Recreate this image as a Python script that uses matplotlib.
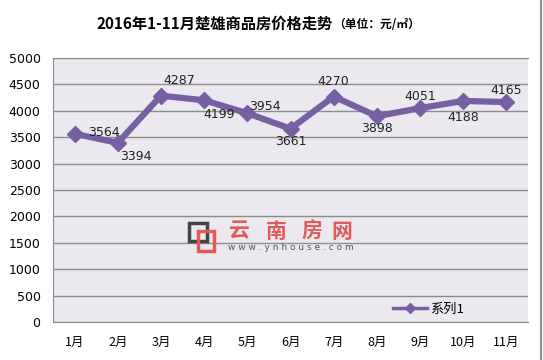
import matplotlib.pyplot as plt
from matplotlib.patches import Rectangle
from matplotlib.lines import Line2D

plt.rcParams['font.family'] = ['Noto Sans CJK SC', 'DejaVu Sans']

months = ['1月', '2月', '3月', '4月', '5月', '6月', '7月', '8月', '9月', '10月', '11月']
prices = [3564, 3394, 4287, 4199, 3954, 3661, 4270, 3898, 4051, 4188, 4165]
# label offsets in points (dx, dy) to mimic the reference placement
offsets = [(21, 1), (13, -10), (13, 11), (11, -10), (13, 5), (0, -9),
           (0, 11), (0, -9), (0, 8), (0, -12), (0, 8)]
yticks = [0, 500, 1000, 1500, 2000, 2500, 3000, 3500, 4000, 4500, 5000]

line_color = '#7660A2'

fig = plt.figure(figsize=(5.43, 3.6), dpi=100)
ax = fig.add_axes([53 / 543, 1 - 322 / 360, 475 / 543, 264 / 360])
ax.set_facecolor('#EBE9EF')

x = list(range(len(months)))
ax.plot(x, prices, color=line_color, lw=4.5, marker='D', ms=8,
        markerfacecolor=line_color, markeredgecolor=line_color, zorder=3)

for i, v in enumerate(prices):
    ax.annotate(str(v), (i, v), xytext=offsets[i], textcoords='offset points',
                ha='center', va='center', fontsize=9, color='#222222',
                family='DejaVu Sans', zorder=4)

ax.set_xlim(-0.5, len(months) - 0.5)
ax.set_ylim(0, 5000)
ax.set_yticks(yticks)
ax.set_yticklabels([str(t) for t in yticks], fontsize=9, family='DejaVu Sans')
ax.set_xticks(x)
ax.set_xticklabels(months, fontsize=9)
ax.tick_params(axis='y', length=0, pad=9)
ax.tick_params(axis='x', length=0, pad=10)
ax.grid(axis='y', color='#8C8C8C', lw=1)
ax.set_axisbelow(True)
ax.spines['right'].set_visible(False)
for s in ['left', 'bottom', 'top']:
    ax.spines[s].set_color('#8C8C8C')

# legend
handle = Line2D([], [], color=line_color, lw=2.5, marker='D', ms=5)
ax.legend([handle], ['系列1'], loc='center left', bbox_to_anchor=(0.69, 0.048),
          frameon=False, fontsize=9.5, handlelength=2.6, handletextpad=0.2)

# watermark
fig.patches.append(Rectangle((189 / 543, 1 - 241 / 360), 18 / 543, 18 / 360,
                             transform=fig.transFigure, fill=False,
                             edgecolor='#444444', lw=2.5, zorder=5))
fig.patches.append(Rectangle((198 / 543, 1 - 251 / 360), 16 / 543, 20 / 360,
                             transform=fig.transFigure, fill=False,
                             edgecolor='#E05A5A', lw=2.5, zorder=5))
for ch, cx in zip('云南房网', [239, 276, 312, 342]):
    fig.text(cx / 543, 1 - 231 / 360, ch, fontsize=15, color='#E05A5A',
             va='center', ha='center', fontweight='bold')
fig.text(228 / 543, 1 - 248 / 360, 'w w w . y n h o u s e . c o m', fontsize=6.5,
         color='#555555', va='center', ha='left', family='DejaVu Sans')

# title
fig.text(333 / 543, 1 - 24 / 360, '2016年1-11月楚雄商品房价格走势',
         fontsize=11, fontweight='bold', ha='right', va='center')
fig.text(333 / 543, 1 - 25 / 360, '（单位：元/㎡）', fontsize=8.5,
         fontweight='bold', ha='left', va='center')

# right border line
fig.add_artist(Line2D([541 / 543, 541 / 543], [0, 1], color='#8C8C8C', lw=1.5,
                      transform=fig.transFigure))

fig.savefig('out.png', dpi=100)
